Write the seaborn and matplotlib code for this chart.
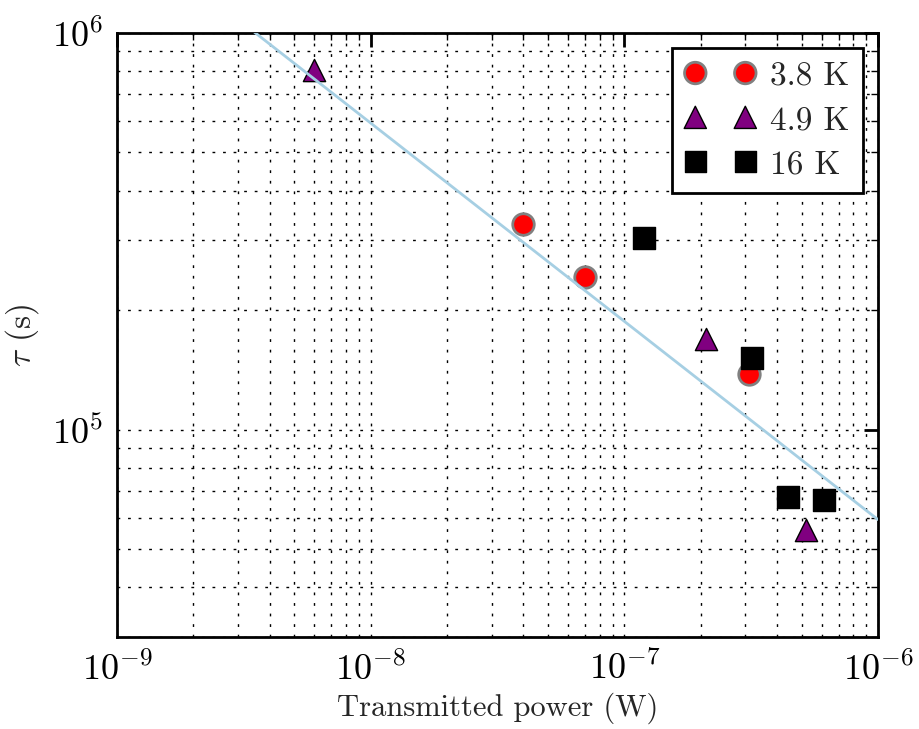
import matplotlib
matplotlib.use("Agg")
import matplotlib.pyplot as plt
import seaborn as sns
import pandas as pd

# 3.8 K
p_38 = [4.0e-8, 7.0e-8, 3.1e-7]
tau_38 = [3.30e5, 2.43e5, 1.38e5]
# 4.9 K
p_49 = [6.0e-9, 2.1e-7, 5.2e-7]
tau_49 = [8.07e5, 1.69e5, 5.57e4]
# 16 K
p_16 = [1.2e-7, 3.2e-7, 4.4e-7, 6.1e-7]
tau_16 = [3.05e5, 1.52e5, 6.78e4, 6.66e4]
# fit line endpoints
fit_p = [1e-9, 1e-6]
fit_tau = [1.875e6, 5.93e4]

sns.set_style("white")
plt.rcParams['font.family'] = 'serif'
plt.rcParams['font.serif'] = ['cmr10']
plt.rcParams['mathtext.fontset'] = 'cm'
plt.rcParams['axes.formatter.use_mathtext'] = True

fig, ax = plt.subplots(figsize=(9.19, 7.29), dpi=100)
fig.subplots_adjust(left=0.1273, right=0.9554, bottom=0.1262, top=0.9547)

d38 = pd.DataFrame({'p': p_38, 'tau': tau_38})
d49 = pd.DataFrame({'p': p_49, 'tau': tau_49})
d16 = pd.DataFrame({'p': p_16, 'tau': tau_16})

sns.scatterplot(data=d38, x='p', y='tau', ax=ax, marker='o', s=240, color='red',
                edgecolor='gray', linewidth=2, label='3.8 K', zorder=2)
sns.scatterplot(data=d49, x='p', y='tau', ax=ax, marker='^', s=256, color='purple',
                edgecolor='black', linewidth=1, label='4.9 K', zorder=2)
sns.scatterplot(data=d16, x='p', y='tau', ax=ax, marker='s', s=240, color='black',
                edgecolor='black', linewidth=1, label='16 K', zorder=2)
sns.lineplot(x=fit_p, y=fit_tau, ax=ax, color='#a6cfe3', linewidth=2, zorder=3)

ax.set_xscale('log')
ax.set_yscale('log')
ax.set_xlim(1e-9, 1e-6)
ax.set_ylim(3e4, 1e6)

ax.set_axisbelow(True)
ax.grid(True, which='both', color='black', linestyle=(0, (2, 5.6)), linewidth=1)

for sp in ax.spines.values():
    sp.set_linewidth(2)
    sp.set_color('black')

ax.tick_params(which='both', direction='in', top=True, right=True, colors='black')
ax.tick_params(which='major', length=10, width=2, labelsize=26, pad=10)
ax.tick_params(which='minor', length=5, width=1)

ax.set_xlabel('Transmitted power (W)', fontsize=22, labelpad=4)
ax.set_ylabel(r'$\tau$ (s)', fontsize=24, labelpad=8)

leg = ax.legend(loc='upper right', scatterpoints=2, scatteryoffsets=[0.5], fontsize=24,
                fancybox=False, framealpha=1, borderpad=0.4, handletextpad=0.45,
                handlelength=2.1, labelspacing=0.45, borderaxespad=0.45)
leg.get_frame().set_edgecolor('black')
leg.get_frame().set_linewidth(2)

fig.savefig('out.png', dpi=100)
